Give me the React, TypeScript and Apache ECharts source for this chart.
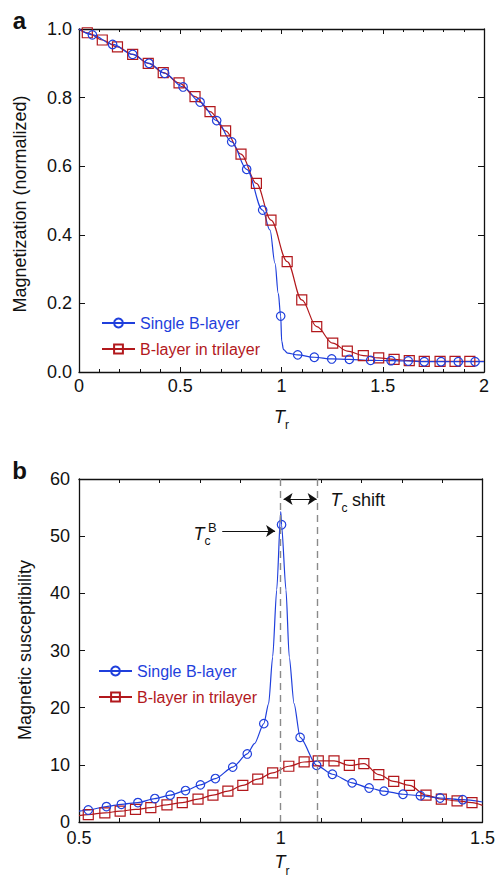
import React, { useEffect, useRef } from 'react';
import * as echarts from 'echarts';

const BLUE = '#1f3fdc';
const RED = '#b2181c';
const INK = '#111';
const FONT = '"Liberation Sans", Arial, Helvetica, sans-serif';

const NAME_SINGLE = 'Single B-layer';
const NAME_TRI = 'B-layer in trilayer';

// ---- Panel a: magnetization vs T_r ----
const A_SINGLE_MARK_T = [0.066, 0.166, 0.265, 0.346, 0.423, 0.514, 0.598, 0.68, 0.754, 0.828, 0.907, 0.996, 1.08, 1.162, 1.248, 1.335, 1.44, 1.541, 1.626, 1.705, 1.788, 1.873, 1.956];
const A_SINGLE_MARK_M = [0.983, 0.955, 0.926, 0.9, 0.871, 0.831, 0.787, 0.733, 0.671, 0.591, 0.472, 0.163, 0.05, 0.043, 0.038, 0.037, 0.034, 0.033, 0.032, 0.03, 0.03, 0.03, 0.03];
const A_SINGLE_CURVE_T = [0, 0.943, 0.968, 0.984, 1.001, 1.01, 1.03, 2.0];
const A_SINGLE_CURVE_M = [1.0, 0.414, 0.317, 0.229, 0.09, 0.065, 0.055, 0.03];

const A_TRI_MARK_T = [0.041, 0.115, 0.19, 0.265, 0.342, 0.416, 0.494, 0.573, 0.647, 0.724, 0.8, 0.876, 0.948, 1.028, 1.1, 1.174, 1.253, 1.325, 1.404, 1.48, 1.556, 1.631, 1.705, 1.783, 1.857, 1.93];
const A_TRI_MARK_M = [0.989, 0.968, 0.948, 0.926, 0.9, 0.873, 0.843, 0.803, 0.759, 0.703, 0.635, 0.55, 0.443, 0.322, 0.21, 0.132, 0.084, 0.061, 0.048, 0.041, 0.037, 0.033, 0.031, 0.031, 0.031, 0.031];
const A_TRI_CURVE_T = [0, 2.0];
const A_TRI_CURVE_M = [1.0, 0.031];

// ---- Panel b: magnetic susceptibility vs T_r ----
const B_SINGLE_MARK_T = [0.523, 0.568, 0.605, 0.646, 0.688, 0.726, 0.764, 0.801, 0.838, 0.881, 0.917, 0.958, 1.002, 1.048, 1.089, 1.128, 1.177, 1.219, 1.256, 1.303, 1.346, 1.395, 1.451];
const B_SINGLE_MARK_X = [2.1, 2.7, 3.1, 3.4, 4.1, 4.7, 5.5, 6.5, 7.6, 9.6, 11.9, 17.2, 52.0, 14.8, 9.9, 8.35, 6.85, 5.95, 5.4, 4.85, 4.6, 4.2, 3.9];
const B_SINGLE_CURVE_T = [0.5, 0.935, 0.97, 0.98, 0.99, 1.0, 1.013, 1.021, 1.033, 1.5];
const B_SINGLE_CURVE_X = [1.9, 13.7, 20.7, 28.9, 40.6, 54.3, 40.6, 28.9, 20.7, 3.5];

const B_TRI_MARK_T = [0.523, 0.564, 0.602, 0.64, 0.678, 0.718, 0.756, 0.795, 0.832, 0.869, 0.906, 0.943, 0.98, 1.02, 1.058, 1.093, 1.132, 1.17, 1.206, 1.243, 1.28, 1.319, 1.36, 1.398, 1.437, 1.474];
const B_TRI_MARK_X = [1.3, 1.6, 1.9, 2.2, 2.5, 3.0, 3.4, 4.0, 4.7, 5.4, 6.4, 7.5, 8.6, 9.75, 10.5, 10.7, 10.7, 9.9, 10.2, 8.3, 7.1, 6.4, 4.7, 4.0, 3.7, 3.4];
const B_TRI_CURVE_T = [0.5, 1.5];
const B_TRI_CURVE_X = [1.1, 2.9];

// annotation positions (data coords)
const TC_B = 1.0;
const TC_TRI = 1.095;
const SHIFT_ARROW = { from: [1.007, 56.5], to: [1.089, 56.5] };
const TCB_ARROW = { from: [0.855, 50.9], to: [0.986, 50.9] };

function merge(mt: number[], mv: number[], ct: number[], cv: number[]) {
  const pts: any[] = [];
  mt.forEach((t, i) => pts.push({ value: [t, mv[i]] }));
  ct.forEach((t, i) => pts.push({ value: [t, cv[i]], symbol: 'none' }));
  pts.sort((a, b) => a.value[0] - b.value[0]);
  return pts;
}

function lineSeries(name: string, color: string, symbol: string, size: number, data: any[], xi: number, yi: number, extra: any = {}) {
  return {
    type: 'line',
    name,
    xAxisIndex: xi,
    yAxisIndex: yi,
    data,
    smooth: 0.35,
    smoothMonotone: 'x',
    symbol,
    symbolSize: size,
    showAllSymbol: true,
    lineStyle: { color, width: 1.2 },
    itemStyle: { color: 'rgba(255,255,255,0)', borderColor: color, borderWidth: 1.2 },
    emphasis: { disabled: true },
    ...extra,
  };
}

const axisLine = { show: true, onZero: false, lineStyle: { color: INK, width: 1.3 } };
const labelStyle = { color: INK, fontFamily: FONT, fontSize: 18 };

export default function App() {
  const ref = useRef<HTMLDivElement>(null);
  useEffect(() => {
    if (!ref.current) return;
    const chart = echarts.init(ref.current, undefined, { renderer: 'svg' });
    const legendText = (c: string) => ({ color: c, fontFamily: FONT, fontSize: 16 });
    const legendData = [
      { name: NAME_SINGLE, textStyle: legendText(BLUE) },
      { name: NAME_TRI, textStyle: legendText(RED) },
    ];
    const legendBase = {
      orient: 'vertical',
      itemWidth: 33,
      itemHeight: 11,
      itemGap: 10,
      selectedMode: false,
      data: legendData,
    };
    const halfLabel = (v: number) => (Math.abs(v * 2 - Math.round(v * 2)) < 1e-6 ? String(Math.round(v * 2) / 2) : '');
    const option: any = {
      animation: false,
      backgroundColor: '#fff',
      grid: [
        { left: 79, top: 29, width: 405, height: 343 },
        { left: 79, top: 479, width: 405, height: 343 },
      ],
      legend: [
        { ...legendBase, left: 96, top: 310 },
        { ...legendBase, left: 93, top: 658 },
      ],
      xAxis: [
        {
          gridIndex: 0, type: 'value', min: 0, max: 2, interval: 0.5, position: 'bottom',
          axisLine, axisTick: { inside: true, length: 5, lineStyle: { color: INK, width: 1 } },
          minorTick: { show: true, splitNumber: 5, length: 3, lineStyle: { color: INK, width: 1 } },
          axisLabel: { ...labelStyle, margin: 5 }, splitLine: { show: false }, minorSplitLine: { show: false },
        },
        {
          gridIndex: 0, type: 'value', min: 0, max: 2, interval: 0.5, position: 'top',
          axisLine, axisTick: { inside: true, length: 5, lineStyle: { color: INK, width: 1 } },
          minorTick: { show: true, splitNumber: 5, length: 3, lineStyle: { color: INK, width: 1 } },
          axisLabel: { show: false }, splitLine: { show: false },
        },
        {
          gridIndex: 1, type: 'value', min: 0.5, max: 1.5, interval: 0.1, position: 'bottom',
          axisLine, axisTick: { inside: true, length: 4, lineStyle: { color: INK, width: 1 } },
          axisLabel: { ...labelStyle, margin: 7, formatter: halfLabel, showMinLabel: true, showMaxLabel: true },
          splitLine: { show: false },
        },
        {
          gridIndex: 1, type: 'value', min: 0.5, max: 1.5, interval: 0.1, position: 'top',
          axisLine, axisTick: { inside: true, length: 4, lineStyle: { color: INK, width: 1 } },
          axisLabel: { show: false }, splitLine: { show: false },
        },
      ],
      yAxis: [
        {
          gridIndex: 0, type: 'value', min: 0, max: 1, interval: 0.2, position: 'left',
          axisLine, axisTick: { inside: true, length: 6, lineStyle: { color: INK, width: 1 } },
          axisLabel: { ...labelStyle, margin: 7, formatter: (v: number) => v.toFixed(1) }, splitLine: { show: false },
        },
        {
          gridIndex: 0, type: 'value', min: 0, max: 1, interval: 0.2, position: 'right',
          axisLine, axisTick: { inside: true, length: 6, lineStyle: { color: INK, width: 1 } },
          axisLabel: { show: false }, splitLine: { show: false },
        },
        {
          gridIndex: 1, type: 'value', min: 0, max: 60, interval: 10, position: 'left',
          axisLine, axisTick: { inside: true, length: 6, lineStyle: { color: INK, width: 1 } },
          axisLabel: { ...labelStyle, margin: 9 }, splitLine: { show: false },
        },
        {
          gridIndex: 1, type: 'value', min: 0, max: 60, interval: 10, position: 'right',
          axisLine, axisTick: { inside: true, length: 6, lineStyle: { color: INK, width: 1 } },
          axisLabel: { show: false }, splitLine: { show: false },
        },
      ],
      series: [
        lineSeries(NAME_TRI, RED, 'rect', 10, merge(A_TRI_MARK_T, A_TRI_MARK_M, A_TRI_CURVE_T, A_TRI_CURVE_M), 0, 0),
        lineSeries(NAME_SINGLE, BLUE, 'circle', 8.5, merge(A_SINGLE_MARK_T, A_SINGLE_MARK_M, A_SINGLE_CURVE_T, A_SINGLE_CURVE_M), 0, 0),
        lineSeries(NAME_TRI, RED, 'rect', 10, merge(B_TRI_MARK_T, B_TRI_MARK_X, B_TRI_CURVE_T, B_TRI_CURVE_X), 2, 2, {
          markLine: {
            silent: true,
            symbol: 'none',
            label: { show: false },
            lineStyle: { color: '#8a8a8a', width: 1.4, type: [7, 5] },
            data: [{ xAxis: TC_B }, { xAxis: TC_TRI }],
          },
        }),
        lineSeries(NAME_SINGLE, BLUE, 'circle', 8.5, merge(B_SINGLE_MARK_T, B_SINGLE_MARK_X, B_SINGLE_CURVE_T, B_SINGLE_CURVE_X), 2, 2, {
          smooth: 0.25,
          markLine: {
            silent: true,
            symbolSize: 9,
            label: { show: false },
            lineStyle: { color: INK, width: 1, type: 'solid' },
            data: [
              [{ coord: SHIFT_ARROW.from, symbol: 'arrow' }, { coord: SHIFT_ARROW.to, symbol: 'arrow' }],
              [{ coord: TCB_ARROW.from, symbol: 'none' }, { coord: TCB_ARROW.to, symbol: 'arrow' }],
            ],
          },
        }),
      ],
      graphic: [
        { type: 'text', x: 19.5, y: 20, style: { text: 'a', font: `bold 24px ${FONT}`, fill: INK, align: 'center', verticalAlign: 'middle' } },
        { type: 'text', x: 19.5, y: 470, style: { text: 'b', font: `bold 24px ${FONT}`, fill: INK, align: 'center', verticalAlign: 'middle' } },
        { type: 'text', x: 20, y: 204, rotation: Math.PI / 2, style: { text: 'Magnetization (normalized)', font: `18px ${FONT}`, fill: INK, align: 'center', verticalAlign: 'middle' } },
        { type: 'text', x: 25, y: 650, rotation: Math.PI / 2, style: { text: 'Magnetic susceptibility', font: `18px ${FONT}`, fill: INK, align: 'center', verticalAlign: 'middle' } },
        { type: 'text', x: 279.5, y: 416.5, style: { text: 'T', font: `italic 18px ${FONT}`, fill: INK, align: 'center', verticalAlign: 'middle' } },
        { type: 'text', x: 285, y: 425, style: { text: 'r', font: `12px ${FONT}`, fill: INK, align: 'left', verticalAlign: 'middle' } },
        { type: 'text', x: 280, y: 862, style: { text: 'T', font: `italic 18px ${FONT}`, fill: INK, align: 'center', verticalAlign: 'middle' } },
        { type: 'text', x: 285.5, y: 871, style: { text: 'r', font: `12px ${FONT}`, fill: INK, align: 'left', verticalAlign: 'middle' } },
        { type: 'text', x: 199, y: 533.5, style: { text: 'T', font: `italic 18px ${FONT}`, fill: INK, align: 'center', verticalAlign: 'middle' } },
        { type: 'text', x: 204.5, y: 540.5, style: { text: 'c', font: `12px ${FONT}`, fill: INK, align: 'left', verticalAlign: 'middle' } },
        { type: 'text', x: 208, y: 527, style: { text: 'B', font: `13px ${FONT}`, fill: INK, align: 'left', verticalAlign: 'middle' } },
        { type: 'text', x: 336, y: 499.5, style: { text: 'T', font: `italic 18px ${FONT}`, fill: INK, align: 'center', verticalAlign: 'middle' } },
        { type: 'text', x: 341.5, y: 507.5, style: { text: 'c', font: `12px ${FONT}`, fill: INK, align: 'left', verticalAlign: 'middle' } },
        { type: 'text', x: 352, y: 499.5, style: { text: 'shift', font: `18px ${FONT}`, fill: INK, align: 'left', verticalAlign: 'middle' } },
      ],
    };
    chart.setOption(option);
    return () => chart.dispose();
  }, []);
  return <div ref={ref} style={{ position: 'fixed', left: 0, top: 0, width: 498, height: 877, background: '#fff' }} />;
}
